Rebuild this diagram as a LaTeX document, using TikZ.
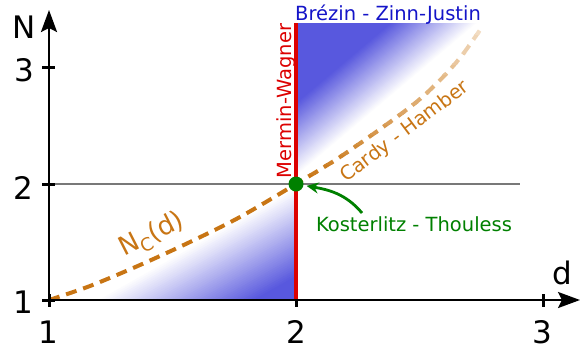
\documentclass[tikz,border=0pt]{standalone}
\usepackage{fontspec}
\setmainfont{DejaVu Sans}
\usetikzlibrary{arrows.meta}
\definecolor{bluefill}{RGB}{88,88,222}
\definecolor{textblue}{RGB}{20,20,200}
\definecolor{redC}{RGB}{220,0,0}
\definecolor{greenC}{RGB}{0,128,0}
\definecolor{orangeC}{RGB}{200,117,20}
\definecolor{lightC}{RGB}{242,220,194}
\definecolor{grayline}{RGB}{120,120,120}
\begin{document}
\begin{tikzpicture}[x=1pt,y=-1pt,
  axislabel/.style={font=\fontsize{31}{36}\selectfont, inner sep=0pt, anchor=base},
  annot/.style={font=\fontsize{19.5}{24}\selectfont, inner sep=0pt},
  tickmark/.style={line width=3pt, black},
  axisline/.style={line width=2.5pt, black, -{Stealth[length=22pt,width=16pt,inset=4pt]}},
  ncurve/.style={line width=4pt, dash pattern=on 11pt off 7pt}
]
\useasboundingbox (0,0) rectangle (585,349);

% lower shaded region
\begin{scope}
  \clip (296,300) -- (49,300) -- plot[smooth] coordinates {(49,300) (90,286) (140,265) (190,242) (240,217) (296,184)} -- cycle;
  \begin{scope}[shift={(95,300)}, rotate=-60.5]
    \foreach \i [evaluate=\i as \p using \i*2.5] in {0,...,39}
      \fill[bluefill!\p!white] (\i*1.95,-700) rectangle (\i*1.95+2.6,700);
    \fill[bluefill] (78,-700) rectangle (900,700);
  \end{scope}
\end{scope}

% upper shaded region
\begin{scope}
  \clip plot[smooth] coordinates {(296,184) (340,157) (390,122) (420,99) (445,75) (463,54) (480,30)} -- (490,23) -- (296,23) -- cycle;
  \begin{scope}[shift={(296,177)}, rotate=130.2]
    \foreach \i [evaluate=\i as \p using \i*2.5] in {0,...,39}
      \fill[bluefill!\p!white] (\i*1.4,-700) rectangle (\i*1.4+2.0,700);
    \fill[bluefill] (56,-700) rectangle (900,700);
  \end{scope}
\end{scope}

% gray level line N=2
\draw[grayline, line width=1.8pt] (49,184) -- (520,184);

% critical curve N_c(d)
\begin{scope}
  \clip (0,184) rectangle (585,349);
  \draw[ncurve, orangeC] plot[smooth] coordinates {(49,300) (90,286) (140,265) (190,242) (240,217) (296,184) (340,157) (390,122) (420,99) (445,75) (463,54) (480,30)};
\end{scope}
\foreach \j [evaluate=\j as \q using \j*100/15] in {0,...,15} {
  \begin{scope}
    \clip (0,184-\j*10) rectangle (585,184-\j*10-10.3);
    \draw[ncurve, lightC!\q!orangeC] plot[smooth] coordinates {(49,300) (90,286) (140,265) (190,242) (240,217) (296,184) (340,157) (390,122) (420,99) (445,75) (463,54) (480,30)};
  \end{scope}
}

% Mermin-Wagner line
\draw[redC, line width=3.5pt] (296,300) -- (296,23);

% axes
\draw[axisline] (49,300) -- (580,300);
\draw[axisline] (49,300) -- (49,10);
\draw[tickmark] (49,294) -- (49,307);
\draw[tickmark] (296,300) -- (296,307);
\draw[tickmark] (543,294) -- (543,307);
\draw[tickmark] (42,300) -- (55,300);
\draw[tickmark] (42,184) -- (55,184);
\draw[tickmark] (42,67) -- (55,67);

\node[axislabel] (xone) at (48,343) {1};
\node[axislabel] (xtwo) at (296,343) {2};
\node[axislabel] (xthree) at (542,343) {3};
\node[axislabel] (yone) at (23,313) {1};
\node[axislabel] (ytwo) at (23,199.3) {2};
\node[axislabel] (ythree) at (24,81.5) {3};
\node[axislabel] (ylab) at (24,38) {N};
\node[axislabel] (xlab) at (562,284) {d};

% labels
\node[annot, text=textblue, anchor=base] (bzj) at (388,20.5) {Brézin - Zinn-Justin};
\node[annot, text=redC, rotate=90, anchor=base] (mw) at (291,101) {Mermin-Wagner};
\node[annot, text=orangeC, rotate=37] (ch) at (405,132) {Cardy - Hamber};
\node[text=orangeC, rotate=27, inner sep=0pt, font=\fontsize{26}{30}\selectfont] (nc) at (152,235) {N\raisebox{-0.22em}{\fontsize{18}{20}\selectfont C}(d)};

% Kosterlitz-Thouless point
\node[circle, fill=greenC, minimum size=15pt, inner sep=0pt] (KT) at (296,184) {};
\node[annot, text=greenC, anchor=base] (ktlabel) at (414,231.7) {Kosterlitz - Thouless};
\coordinate (kttail) at (362,213);
\draw[greenC, line width=2.8pt, -{Stealth[length=12pt,width=11pt]}, shorten >=3pt] (kttail) to[out=130,in=-10] (KT);
\end{tikzpicture}
\end{document}
